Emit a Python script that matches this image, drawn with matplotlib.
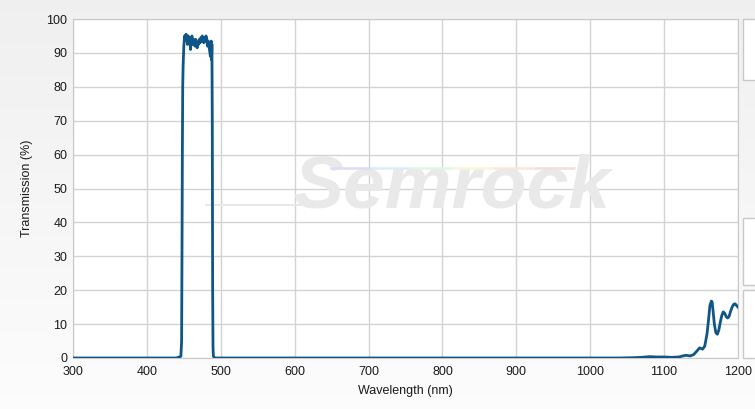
import numpy as np
import matplotlib.pyplot as plt
from matplotlib.patches import Rectangle

# spectrum (nm, %)
wavelength = [300, 440, 446, 447, 447.5, 448, 448.5, 449, 450, 451, 452, 453, 454,
              455, 456, 457, 458, 459, 460, 461, 462, 463, 464, 465, 466, 467,
              468, 469, 470, 471, 472, 473, 474, 475, 476, 477, 478, 479, 480,
              481, 482, 483, 484, 485, 486, 486.5, 487, 487.5, 488, 488.5, 489,
              489.5, 490, 492, 1000, 1040, 1060, 1070, 1080, 1090, 1100, 1110,
              1120, 1125, 1130, 1135, 1140, 1145, 1148, 1152, 1155, 1158, 1160,
              1162, 1164, 1165, 1166, 1168, 1170, 1172, 1174, 1176, 1178, 1180,
              1182, 1184, 1186, 1188, 1190, 1192, 1194, 1196, 1198, 1200]
transmission = [0, 0, 0.5, 5, 30, 60, 80, 86, 92, 95, 94, 95.5, 94, 92.5, 95,
                93, 94.5, 91, 93.5, 95, 92.5, 94, 93, 92, 94, 93.5, 91.5, 93,
                92.5, 94, 93, 94.5, 93.5, 95, 94, 93, 94.5, 93.5, 95, 94, 92,
                93.5, 92, 90.5, 89, 92, 93.5, 88, 92.5, 70, 20, 3, 0.5, 0, 0,
                0, 0.1, 0.2, 0.4, 0.3, 0.3, 0.2, 0.3, 0.6, 0.8, 0.6, 1.0, 2.2,
                3.0, 2.6, 3.5, 7, 11, 15.5, 16.8, 16.5, 14.5, 10, 7.5, 7, 8.2,
                10.5, 12.5, 13.6, 13.2, 12.2, 11.8, 12.3, 13.8, 15, 15.8, 16,
                15.5, 15]
x_ticks = list(range(300, 1201, 100))
y_ticks = list(range(0, 101, 10))

W, H = 755, 409
fig = plt.figure(figsize=(W / 100, H / 100), dpi=100)
plt.rcParams['font.family'] = ['Liberation Sans', 'DejaVu Sans']

# soft grey background gradient
bg = fig.add_axes([0, 0, 1, 1], zorder=-10)
grad = np.linspace(0.94, 0.99, 256).reshape(-1, 1) * np.ones((1, 4))
bg.imshow(np.dstack([grad] * 3), aspect='auto', extent=[0, 1, 0, 1])
bg.axis('off')

ax = fig.add_axes([73 / W, 1 - 358 / H, (738 - 73) / W, (358 - 19) / H])
ax.set_facecolor('white')
ax.plot(wavelength, transmission, color='#0f5585', lw=2.0, zorder=3,
        solid_joinstyle='round')
ax.set_xlim(300, 1200)
ax.set_ylim(0, 100)
ax.set_xticks(x_ticks)
ax.set_yticks(y_ticks)
ax.grid(True, color='#d3d3d3', lw=1)
ax.set_axisbelow(True)
ax.tick_params(length=0, labelsize=9, colors='#1a1a1a', pad=4)
ax.tick_params(axis='x', pad=6)
for s in ax.spines.values():
    s.set_color('#c8c8c8')
ax.set_xlabel('Wavelength (nm)', fontsize=9, color='#1a1a1a', labelpad=5)
ax.set_ylabel('Transmission (%)', fontsize=9, color='#1a1a1a', labelpad=10)

# watermark
ax.text(0.57, 0.50, 'Semrock', transform=ax.transAxes, fontsize=54,
        fontweight='bold', style='italic', color='#e9e9e9', ha='center',
        va='center', zorder=1)
rainbow = ['#dcdcf6', '#d8eef8', '#e0f6e0', '#f6f6d8', '#f8e8d8', '#f6dcdc']
xs = np.linspace(0.386, 0.755, len(rainbow) + 1)
for c, a, b in zip(rainbow, xs[:-1], xs[1:]):
    ax.plot([a, b], [0.56, 0.56], transform=ax.transAxes, color=c, lw=1.8,
            zorder=1, solid_capstyle='butt')
ax.plot([0.20, 0.36], [0.45, 0.45], transform=ax.transAxes,
        color='#e8e8e8', lw=1.5, zorder=1)

# partial legend boxes on the right edge
for y0, y1 in [(19, 80), (218, 285), (290, 358)]:
    fig.patches.append(Rectangle((743 / W, 1 - y1 / H), 20 / W, (y1 - y0) / H,
                                 transform=fig.transFigure, facecolor='white',
                                 edgecolor='#c8c8c8', lw=1))

fig.savefig('out.png', dpi=100)
